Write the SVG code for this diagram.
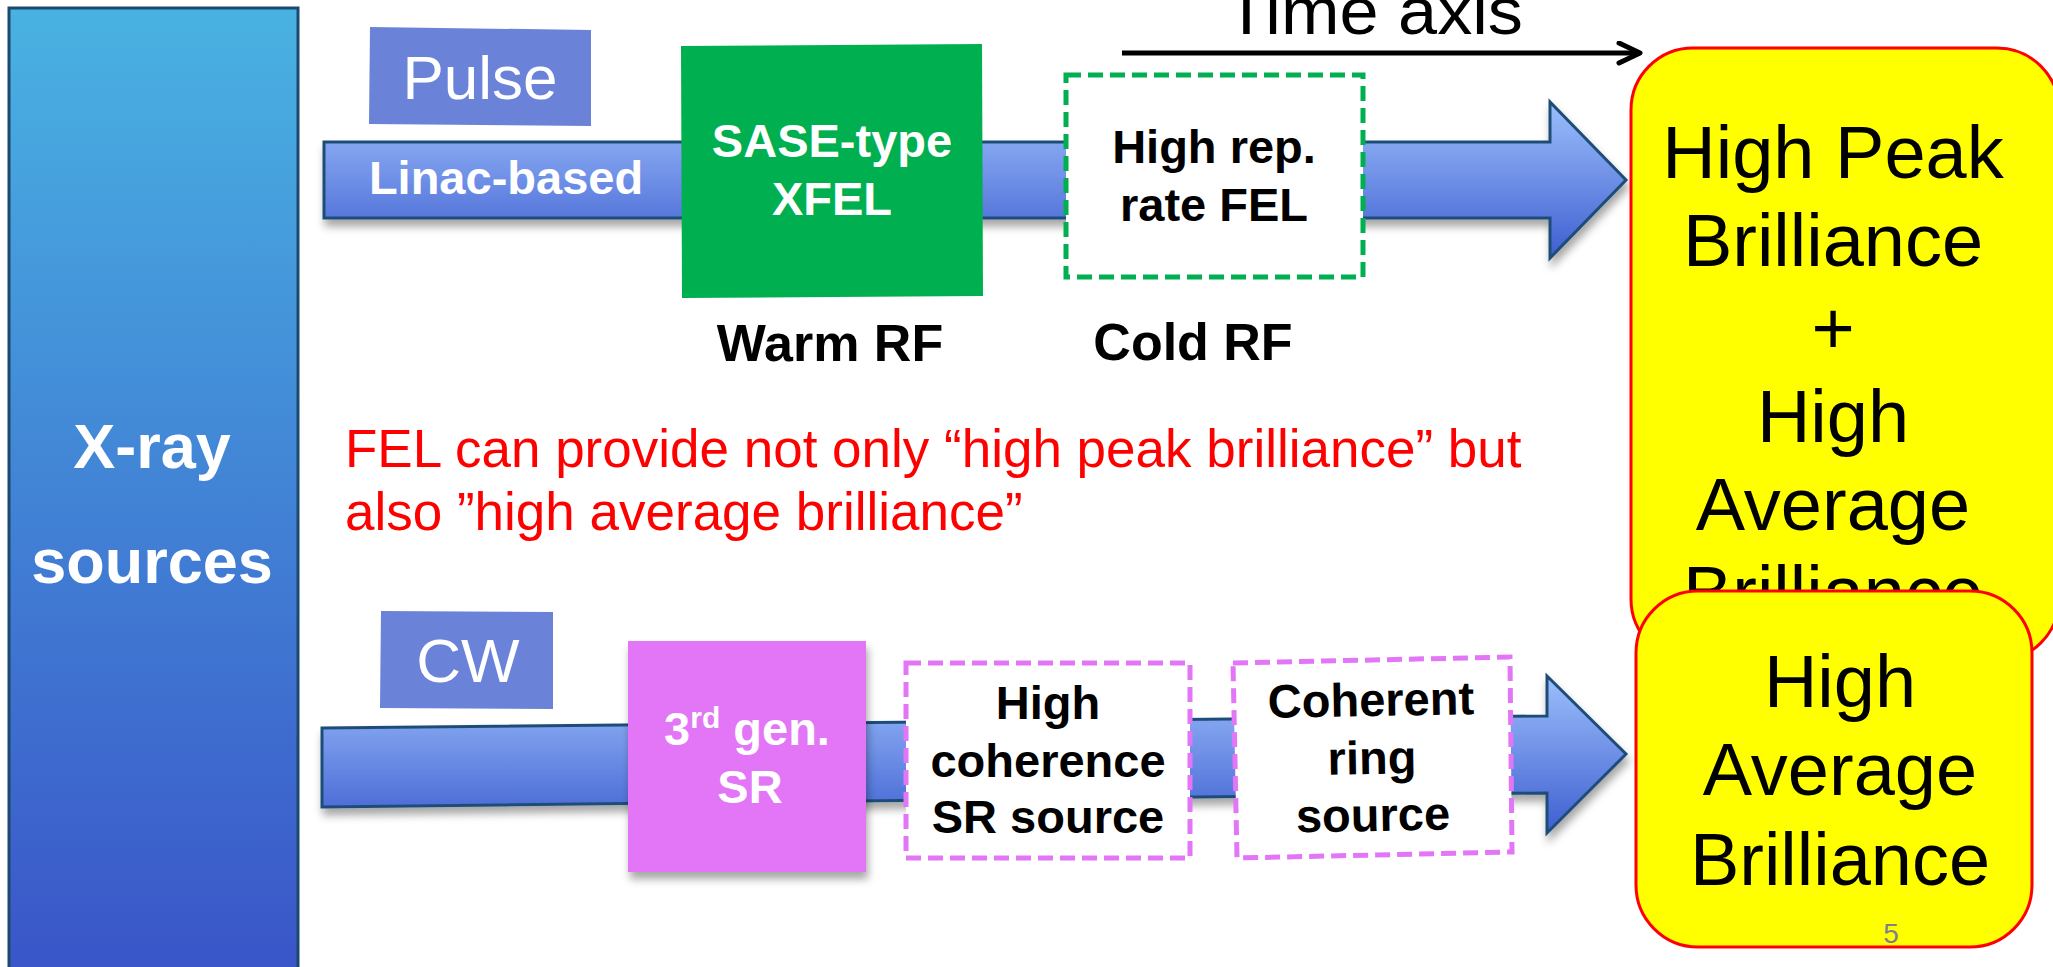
<svg xmlns="http://www.w3.org/2000/svg" width="2053" height="967" viewBox="0 0 2053 967">
<defs>
  <linearGradient id="gLeft" x1="0" y1="0" x2="0" y2="1">
    <stop offset="0" stop-color="#49B2E2"/>
    <stop offset="1" stop-color="#3A54C8"/>
  </linearGradient>
  <linearGradient id="gArrow" x1="0" y1="0" x2="0" y2="1">
    <stop offset="0" stop-color="#9CBFFB"/>
    <stop offset="0.5" stop-color="#6E8FE6"/>
    <stop offset="1" stop-color="#3E5ED0"/>
  </linearGradient>
  <filter id="shadow" x="-5%" y="-20%" width="110%" height="150%">
    <feDropShadow dx="2" dy="7" stdDeviation="4" flood-color="#000" flood-opacity="0.35"/>
  </filter>
  <marker id="chev" markerUnits="userSpaceOnUse" markerWidth="30" markerHeight="30" refX="24" refY="12" orient="auto">
    <path d="M3,2 L24,12 L3,22" fill="none" stroke="#000" stroke-width="5" stroke-linecap="round" stroke-linejoin="round"/>
  </marker>
  <style>
    .wb { font-family: "Liberation Sans", Arial, sans-serif; font-weight: bold; fill: #FFFFFF; }
    .wn { font-family: "Liberation Sans", Arial, sans-serif; fill: #FFFFFF; }
    .kb { font-family: "Liberation Sans", Arial, sans-serif; font-weight: bold; fill: #000000; }
    .kn { font-family: "Liberation Sans", Arial, sans-serif; fill: #000000; }
    .red { font-family: "Liberation Sans", Arial, sans-serif; fill: #FF0000; font-size: 53px; }
    .mid { text-anchor: middle; }
    .arrow { fill: url(#gArrow); stroke: #1F4E79; stroke-width: 3; filter: url(#shadow); }
    .tag { fill: #6A82D8; }
    .dashG { fill: #FFFFFF; stroke: #00B050; stroke-width: 5; stroke-dasharray: 15 7; }
    .dashP { fill: #FFFFFF; stroke: #E276F7; stroke-width: 5; stroke-dasharray: 15 7; }
    .yel { fill: #FFFF00; stroke: #FF0000; stroke-width: 3; }
  </style>
</defs>
<rect width="2053" height="967" fill="#FFFFFF"/>

<g id="xray-sources">
  <rect x="9" y="8" width="289" height="975" fill="url(#gLeft)" stroke="#1B4A6E" stroke-width="3"/>
  <text class="wb mid" x="152" y="468" font-size="63">X-ray</text>
  <text class="wb mid" x="152" y="583" font-size="63">sources</text>
</g>

<g id="pulse-tag">
  <polygon class="tag" points="370,27 591,30 591,126 369,124"/>
  <text class="wn mid" x="480" y="99" font-size="62">Pulse</text>
</g>

<g id="linac-arrow">
  <polygon class="arrow" points="324,142 1550,142 1550,102 1626,180 1550,258 1550,218 324,218"/>
  <text class="wb mid" x="506" y="194" font-size="47">Linac-based</text>
</g>

<g id="sase-xfel">
  <polygon points="681,46 982,44 983,296 682,298" fill="#00B050"/>
  <text class="wb mid" x="832" y="157" font-size="47">SASE-type</text>
  <text class="wb mid" x="832" y="215" font-size="47">XFEL</text>
</g>

<g id="high-rep-fel">
  <rect class="dashG" x="1066" y="75" width="297" height="202"/>
  <text class="kb mid" x="1214" y="163" font-size="47">High rep.</text>
  <text class="kb mid" x="1214" y="221" font-size="47">rate FEL</text>
</g>

<g id="labels-rf">
  <text class="kb mid" x="830" y="361" font-size="52">Warm RF</text>
  <text class="kb mid" x="1193" y="360" font-size="52">Cold RF</text>
</g>

<g id="time-axis">
  <text class="kn" x="1225" y="34" font-size="66" textLength="298" lengthAdjust="spacingAndGlyphs">Time axis</text>
</g>

<g id="connectors">
  <line x1="1122" y1="53" x2="1640" y2="53" stroke="#000" stroke-width="5" marker-end="url(#chev)"/>
</g>

<g id="note">
  <text class="red" x="345" y="467">FEL can provide not only “high peak brilliance” but</text>
  <text class="red" x="345" y="530">also ”high average brilliance”</text>
</g>

<g id="cw-tag">
  <polygon class="tag" points="381,611 553,612 553,709 380,708"/>
  <text class="wn mid" x="468" y="682" font-size="62">CW</text>
</g>

<g id="cw-arrow">
  <polygon class="arrow" points="322,728 1547,716 1547,676 1626,754 1547,833 1547,793 322,807"/>
</g>

<g id="third-gen-sr">
  <rect x="628" y="641" width="238" height="231" fill="#E276F7" filter="url(#shadow)"/>
  <text class="wb mid" x="747" y="745" font-size="47">3<tspan font-size="30" dy="-17">rd</tspan><tspan dy="17"> gen.</tspan></text>
  <text class="wb mid" x="750" y="803" font-size="47">SR</text>
</g>

<g id="high-coherence-sr">
  <rect class="dashP" x="906" y="663" width="284" height="195"/>
  <text class="kb mid" x="1048" y="719" font-size="47">High</text>
  <text class="kb mid" x="1048" y="777" font-size="47">coherence</text>
  <text class="kb mid" x="1048" y="833" font-size="47">SR source</text>
</g>

<g id="coherent-ring">
  <polygon class="dashP" points="1233,663 1510,657 1512,852 1237,858"/>
  <g transform="rotate(-1 1372 760)">
    <text class="kb mid" x="1372" y="716" font-size="47">Coherent</text>
    <text class="kb mid" x="1372" y="774" font-size="47">ring</text>
    <text class="kb mid" x="1372" y="831" font-size="47">source</text>
  </g>
</g>

<g id="high-peak-box">
  <rect class="yel" x="1631" y="48" width="428" height="613" rx="62" ry="62"/>
  <text class="kn mid" x="1833" y="178" font-size="74">High Peak</text>
  <text class="kn mid" x="1833" y="266" font-size="74">Brilliance</text>
  <text class="kn mid" x="1833" y="354" font-size="74">+</text>
  <text class="kn mid" x="1833" y="442" font-size="74">High</text>
  <text class="kn mid" x="1833" y="530" font-size="74">Average</text>
  <text class="kn mid" x="1833" y="618" font-size="74">Brilliance</text>
</g>

<g id="high-average-box">
  <rect class="yel" x="1636" y="591" width="396" height="356" rx="62" ry="62"/>
  <text class="kn mid" x="1840" y="707" font-size="74">High</text>
  <text class="kn mid" x="1840" y="795" font-size="74">Average</text>
  <text class="kn mid" x="1840" y="885" font-size="74">Brilliance</text>
  <text x="1891" y="943" font-size="28" fill="#80808A" text-anchor="middle" font-family="Liberation Sans, Arial, sans-serif">5</text>
</g>
</svg>
